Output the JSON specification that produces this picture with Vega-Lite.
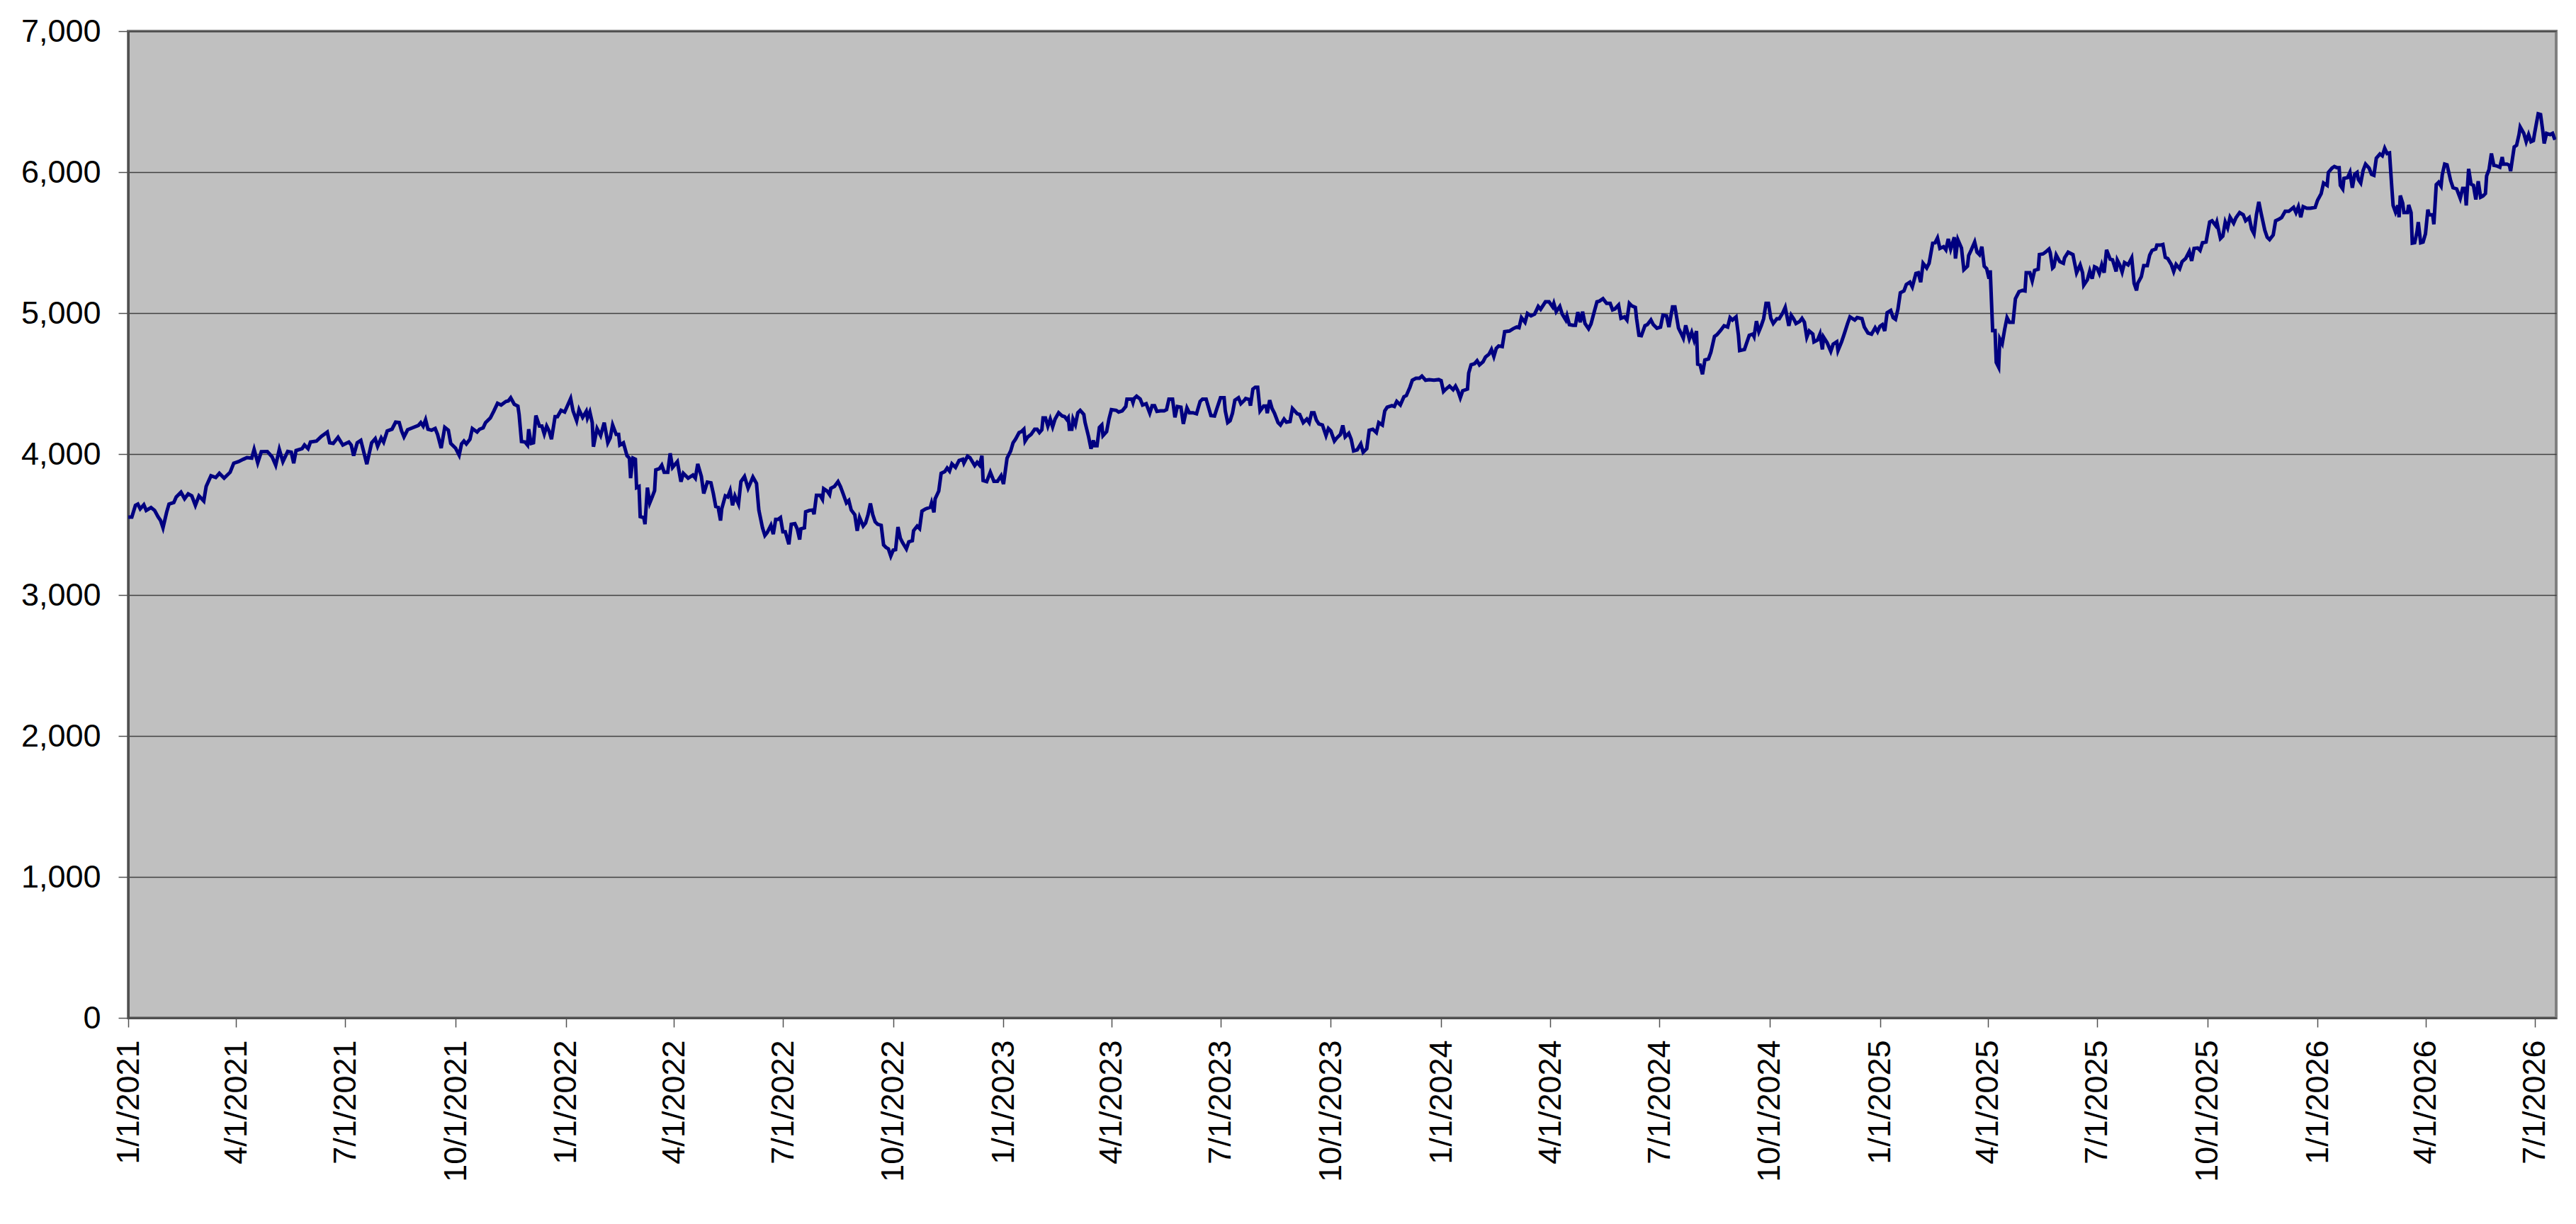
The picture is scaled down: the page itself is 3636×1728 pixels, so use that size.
{
  "$schema": "https://vega.github.io/schema/vega-lite/v6.json",
  "width": 3427,
  "height": 1393,
  "autosize": {"type": "none"},
  "padding": {"left": 181, "top": 44, "right": 28, "bottom": 291},
  "background": "white",
  "data": {
    "values": [
      {"date": "2021-01-01", "value": 3553}, {"date": "2021-01-04", "value": 3553}, {"date": "2021-01-07", "value": 3636}, {"date": "2021-01-09", "value": 3645},
      {"date": "2021-01-11", "value": 3611}, {"date": "2021-01-14", "value": 3640}, {"date": "2021-01-16", "value": 3600}, {"date": "2021-01-20", "value": 3620},
      {"date": "2021-01-23", "value": 3600}, {"date": "2021-01-26", "value": 3553}, {"date": "2021-01-28", "value": 3528}, {"date": "2021-01-30", "value": 3477},
      {"date": "2021-02-02", "value": 3586}, {"date": "2021-02-04", "value": 3645}, {"date": "2021-02-08", "value": 3656}, {"date": "2021-02-10", "value": 3695},
      {"date": "2021-02-14", "value": 3729}, {"date": "2021-02-17", "value": 3683}, {"date": "2021-02-20", "value": 3717}, {"date": "2021-02-23", "value": 3703},
      {"date": "2021-02-26", "value": 3636}, {"date": "2021-03-01", "value": 3703}, {"date": "2021-03-05", "value": 3667}, {"date": "2021-03-07", "value": 3770},
      {"date": "2021-03-11", "value": 3846}, {"date": "2021-03-15", "value": 3834}, {"date": "2021-03-18", "value": 3863}, {"date": "2021-03-22", "value": 3829},
      {"date": "2021-03-27", "value": 3871}, {"date": "2021-03-30", "value": 3935}, {"date": "2021-04-03", "value": 3946}, {"date": "2021-04-07", "value": 3963},
      {"date": "2021-04-10", "value": 3975}, {"date": "2021-04-14", "value": 3971}, {"date": "2021-04-16", "value": 4033}, {"date": "2021-04-19", "value": 3938},
      {"date": "2021-04-22", "value": 4017}, {"date": "2021-04-27", "value": 4018}, {"date": "2021-05-01", "value": 3980}, {"date": "2021-05-04", "value": 3921},
      {"date": "2021-05-07", "value": 4033}, {"date": "2021-05-10", "value": 3946}, {"date": "2021-05-14", "value": 4018}, {"date": "2021-05-17", "value": 4013},
      {"date": "2021-05-19", "value": 3935}, {"date": "2021-05-21", "value": 4025}, {"date": "2021-05-26", "value": 4038}, {"date": "2021-05-28", "value": 4064},
      {"date": "2021-05-31", "value": 4038}, {"date": "2021-06-02", "value": 4085}, {"date": "2021-06-07", "value": 4092}, {"date": "2021-06-11", "value": 4125},
      {"date": "2021-06-16", "value": 4156}, {"date": "2021-06-18", "value": 4080}, {"date": "2021-06-21", "value": 4075}, {"date": "2021-06-25", "value": 4119},
      {"date": "2021-06-29", "value": 4064}, {"date": "2021-07-04", "value": 4085}, {"date": "2021-07-06", "value": 4064}, {"date": "2021-07-08", "value": 3988},
      {"date": "2021-07-11", "value": 4080}, {"date": "2021-07-14", "value": 4097}, {"date": "2021-07-16", "value": 4030}, {"date": "2021-07-19", "value": 3928},
      {"date": "2021-07-23", "value": 4080}, {"date": "2021-07-26", "value": 4109}, {"date": "2021-07-28", "value": 4055}, {"date": "2021-07-31", "value": 4114},
      {"date": "2021-08-02", "value": 4085}, {"date": "2021-08-05", "value": 4164}, {"date": "2021-08-09", "value": 4176}, {"date": "2021-08-12", "value": 4226},
      {"date": "2021-08-15", "value": 4223}, {"date": "2021-08-17", "value": 4164}, {"date": "2021-08-19", "value": 4122}, {"date": "2021-08-22", "value": 4172},
      {"date": "2021-08-26", "value": 4186}, {"date": "2021-08-31", "value": 4203}, {"date": "2021-09-02", "value": 4223}, {"date": "2021-09-04", "value": 4198},
      {"date": "2021-09-06", "value": 4243}, {"date": "2021-09-08", "value": 4176}, {"date": "2021-09-11", "value": 4169}, {"date": "2021-09-14", "value": 4181},
      {"date": "2021-09-16", "value": 4139}, {"date": "2021-09-19", "value": 4042}, {"date": "2021-09-22", "value": 4189}, {"date": "2021-09-25", "value": 4169},
      {"date": "2021-09-27", "value": 4075}, {"date": "2021-10-01", "value": 4042}, {"date": "2021-10-04", "value": 3992}, {"date": "2021-10-06", "value": 4072},
      {"date": "2021-10-08", "value": 4092}, {"date": "2021-10-10", "value": 4072}, {"date": "2021-10-13", "value": 4105}, {"date": "2021-10-15", "value": 4181},
      {"date": "2021-10-19", "value": 4156}, {"date": "2021-10-21", "value": 4176}, {"date": "2021-10-24", "value": 4186}, {"date": "2021-10-26", "value": 4223},
      {"date": "2021-10-30", "value": 4256}, {"date": "2021-11-02", "value": 4306}, {"date": "2021-11-05", "value": 4360}, {"date": "2021-11-08", "value": 4348},
      {"date": "2021-11-12", "value": 4373}, {"date": "2021-11-14", "value": 4377}, {"date": "2021-11-16", "value": 4399}, {"date": "2021-11-19", "value": 4353},
      {"date": "2021-11-22", "value": 4340}, {"date": "2021-11-23", "value": 4281}, {"date": "2021-11-25", "value": 4089}, {"date": "2021-11-28", "value": 4085},
      {"date": "2021-11-30", "value": 4064}, {"date": "2021-12-01", "value": 4176}, {"date": "2021-12-03", "value": 4075}, {"date": "2021-12-05", "value": 4080},
      {"date": "2021-12-07", "value": 4273}, {"date": "2021-12-10", "value": 4198}, {"date": "2021-12-12", "value": 4198}, {"date": "2021-12-14", "value": 4142},
      {"date": "2021-12-16", "value": 4198}, {"date": "2021-12-18", "value": 4164}, {"date": "2021-12-20", "value": 4105}, {"date": "2021-12-23", "value": 4265},
      {"date": "2021-12-25", "value": 4265}, {"date": "2021-12-28", "value": 4310}, {"date": "2021-12-31", "value": 4298}, {"date": "2022-01-05", "value": 4394},
      {"date": "2022-01-07", "value": 4306}, {"date": "2022-01-10", "value": 4236}, {"date": "2022-01-12", "value": 4315}, {"date": "2022-01-15", "value": 4260},
      {"date": "2022-01-18", "value": 4303}, {"date": "2022-01-19", "value": 4256}, {"date": "2022-01-21", "value": 4298}, {"date": "2022-01-23", "value": 4223},
      {"date": "2022-01-24", "value": 4052}, {"date": "2022-01-27", "value": 4181}, {"date": "2022-01-30", "value": 4131}, {"date": "2022-02-02", "value": 4223},
      {"date": "2022-02-05", "value": 4080}, {"date": "2022-02-07", "value": 4114}, {"date": "2022-02-09", "value": 4206}, {"date": "2022-02-12", "value": 4139},
      {"date": "2022-02-14", "value": 4139}, {"date": "2022-02-15", "value": 4064}, {"date": "2022-02-18", "value": 4080}, {"date": "2022-02-21", "value": 3988},
      {"date": "2022-02-23", "value": 3971}, {"date": "2022-02-24", "value": 3829}, {"date": "2022-02-26", "value": 3971}, {"date": "2022-02-28", "value": 3963},
      {"date": "2022-03-01", "value": 3762}, {"date": "2022-03-03", "value": 3770}, {"date": "2022-03-04", "value": 3556}, {"date": "2022-03-07", "value": 3549},
      {"date": "2022-03-08", "value": 3502}, {"date": "2022-03-10", "value": 3762}, {"date": "2022-03-12", "value": 3653}, {"date": "2022-03-14", "value": 3695},
      {"date": "2022-03-16", "value": 3740}, {"date": "2022-03-17", "value": 3888}, {"date": "2022-03-20", "value": 3896}, {"date": "2022-03-22", "value": 3921},
      {"date": "2022-03-24", "value": 3871}, {"date": "2022-03-27", "value": 3871}, {"date": "2022-03-29", "value": 4005}, {"date": "2022-03-31", "value": 3905},
      {"date": "2022-04-04", "value": 3946}, {"date": "2022-04-07", "value": 3804}, {"date": "2022-04-09", "value": 3863}, {"date": "2022-04-13", "value": 3829},
      {"date": "2022-04-17", "value": 3851}, {"date": "2022-04-19", "value": 3829}, {"date": "2022-04-21", "value": 3930}, {"date": "2022-04-24", "value": 3841},
      {"date": "2022-04-26", "value": 3720}, {"date": "2022-04-29", "value": 3801}, {"date": "2022-05-02", "value": 3796}, {"date": "2022-05-04", "value": 3720},
      {"date": "2022-05-06", "value": 3628}, {"date": "2022-05-08", "value": 3623}, {"date": "2022-05-10", "value": 3528}, {"date": "2022-05-11", "value": 3611},
      {"date": "2022-05-14", "value": 3703}, {"date": "2022-05-16", "value": 3695}, {"date": "2022-05-18", "value": 3740}, {"date": "2022-05-20", "value": 3636},
      {"date": "2022-05-22", "value": 3703}, {"date": "2022-05-25", "value": 3645}, {"date": "2022-05-27", "value": 3804}, {"date": "2022-05-30", "value": 3841},
      {"date": "2022-06-02", "value": 3757}, {"date": "2022-06-04", "value": 3796}, {"date": "2022-06-06", "value": 3837}, {"date": "2022-06-09", "value": 3791},
      {"date": "2022-06-11", "value": 3600}, {"date": "2022-06-14", "value": 3477}, {"date": "2022-06-16", "value": 3422}, {"date": "2022-06-18", "value": 3444},
      {"date": "2022-06-21", "value": 3494}, {"date": "2022-06-23", "value": 3432}, {"date": "2022-06-25", "value": 3536}, {"date": "2022-06-27", "value": 3536},
      {"date": "2022-06-29", "value": 3549}, {"date": "2022-07-01", "value": 3449}, {"date": "2022-07-03", "value": 3449}, {"date": "2022-07-06", "value": 3360},
      {"date": "2022-07-08", "value": 3502}, {"date": "2022-07-11", "value": 3506}, {"date": "2022-07-13", "value": 3469}, {"date": "2022-07-15", "value": 3394},
      {"date": "2022-07-16", "value": 3469}, {"date": "2022-07-19", "value": 3477}, {"date": "2022-07-20", "value": 3590}, {"date": "2022-07-23", "value": 3600},
      {"date": "2022-07-26", "value": 3603}, {"date": "2022-07-27", "value": 3573}, {"date": "2022-07-29", "value": 3707}, {"date": "2022-08-01", "value": 3707},
      {"date": "2022-08-03", "value": 3678}, {"date": "2022-08-04", "value": 3754}, {"date": "2022-08-07", "value": 3737}, {"date": "2022-08-09", "value": 3712},
      {"date": "2022-08-10", "value": 3757}, {"date": "2022-08-13", "value": 3770}, {"date": "2022-08-16", "value": 3804}, {"date": "2022-08-18", "value": 3770},
      {"date": "2022-08-20", "value": 3724}, {"date": "2022-08-23", "value": 3653}, {"date": "2022-08-25", "value": 3670}, {"date": "2022-08-27", "value": 3603},
      {"date": "2022-08-30", "value": 3569}, {"date": "2022-09-01", "value": 3456}, {"date": "2022-09-03", "value": 3549}, {"date": "2022-09-06", "value": 3489},
      {"date": "2022-09-08", "value": 3511}, {"date": "2022-09-10", "value": 3569}, {"date": "2022-09-12", "value": 3650}, {"date": "2022-09-14", "value": 3569},
      {"date": "2022-09-16", "value": 3519}, {"date": "2022-09-18", "value": 3502}, {"date": "2022-09-21", "value": 3494}, {"date": "2022-09-23", "value": 3355},
      {"date": "2022-09-25", "value": 3338}, {"date": "2022-09-27", "value": 3327}, {"date": "2022-09-29", "value": 3276}, {"date": "2022-10-01", "value": 3318},
      {"date": "2022-10-03", "value": 3322}, {"date": "2022-10-05", "value": 3482}, {"date": "2022-10-07", "value": 3402}, {"date": "2022-10-09", "value": 3369},
      {"date": "2022-10-12", "value": 3327}, {"date": "2022-10-14", "value": 3377}, {"date": "2022-10-17", "value": 3385}, {"date": "2022-10-18", "value": 3456},
      {"date": "2022-10-21", "value": 3489}, {"date": "2022-10-23", "value": 3472}, {"date": "2022-10-25", "value": 3595}, {"date": "2022-10-28", "value": 3611},
      {"date": "2022-11-01", "value": 3623}, {"date": "2022-11-02", "value": 3653}, {"date": "2022-11-04", "value": 3586}, {"date": "2022-11-05", "value": 3683},
      {"date": "2022-11-08", "value": 3737}, {"date": "2022-11-10", "value": 3863}, {"date": "2022-11-13", "value": 3875}, {"date": "2022-11-15", "value": 3901},
      {"date": "2022-11-17", "value": 3879}, {"date": "2022-11-19", "value": 3930}, {"date": "2022-11-22", "value": 3905}, {"date": "2022-11-25", "value": 3955},
      {"date": "2022-11-28", "value": 3963}, {"date": "2022-11-29", "value": 3935}, {"date": "2022-12-02", "value": 3985}, {"date": "2022-12-04", "value": 3975},
      {"date": "2022-12-08", "value": 3918}, {"date": "2022-12-10", "value": 3941}, {"date": "2022-12-12", "value": 3921}, {"date": "2022-12-14", "value": 3988},
      {"date": "2022-12-15", "value": 3812}, {"date": "2022-12-18", "value": 3804}, {"date": "2022-12-21", "value": 3871}, {"date": "2022-12-24", "value": 3807},
      {"date": "2022-12-27", "value": 3807}, {"date": "2022-12-30", "value": 3846}, {"date": "2023-01-01", "value": 3787}, {"date": "2023-01-04", "value": 3971},
      {"date": "2023-01-07", "value": 4022}, {"date": "2023-01-09", "value": 4080}, {"date": "2023-01-11", "value": 4105}, {"date": "2023-01-14", "value": 4152},
      {"date": "2023-01-16", "value": 4159}, {"date": "2023-01-18", "value": 4176}, {"date": "2023-01-19", "value": 4092}, {"date": "2023-01-21", "value": 4119},
      {"date": "2023-01-24", "value": 4139}, {"date": "2023-01-27", "value": 4176}, {"date": "2023-01-29", "value": 4176}, {"date": "2023-01-31", "value": 4152},
      {"date": "2023-02-02", "value": 4172}, {"date": "2023-02-03", "value": 4256}, {"date": "2023-02-05", "value": 4256}, {"date": "2023-02-07", "value": 4198},
      {"date": "2023-02-09", "value": 4248}, {"date": "2023-02-11", "value": 4193}, {"date": "2023-02-13", "value": 4248}, {"date": "2023-02-16", "value": 4293},
      {"date": "2023-02-19", "value": 4270}, {"date": "2023-02-21", "value": 4265}, {"date": "2023-02-23", "value": 4243}, {"date": "2023-02-24", "value": 4256},
      {"date": "2023-02-25", "value": 4176}, {"date": "2023-02-27", "value": 4176}, {"date": "2023-02-28", "value": 4248}, {"date": "2023-03-02", "value": 4209},
      {"date": "2023-03-04", "value": 4293}, {"date": "2023-03-06", "value": 4310}, {"date": "2023-03-09", "value": 4281}, {"date": "2023-03-10", "value": 4226},
      {"date": "2023-03-13", "value": 4122}, {"date": "2023-03-15", "value": 4038}, {"date": "2023-03-17", "value": 4097}, {"date": "2023-03-18", "value": 4059},
      {"date": "2023-03-20", "value": 4059}, {"date": "2023-03-22", "value": 4189}, {"date": "2023-03-24", "value": 4206}, {"date": "2023-03-25", "value": 4131},
      {"date": "2023-03-28", "value": 4159}, {"date": "2023-03-30", "value": 4248}, {"date": "2023-04-01", "value": 4315}, {"date": "2023-04-05", "value": 4310},
      {"date": "2023-04-07", "value": 4298}, {"date": "2023-04-10", "value": 4306}, {"date": "2023-04-13", "value": 4337}, {"date": "2023-04-14", "value": 4390},
      {"date": "2023-04-18", "value": 4390}, {"date": "2023-04-19", "value": 4365}, {"date": "2023-04-20", "value": 4394}, {"date": "2023-04-22", "value": 4410},
      {"date": "2023-04-25", "value": 4390}, {"date": "2023-04-27", "value": 4348}, {"date": "2023-04-30", "value": 4357}, {"date": "2023-05-03", "value": 4290},
      {"date": "2023-05-05", "value": 4343}, {"date": "2023-05-07", "value": 4343}, {"date": "2023-05-09", "value": 4303}, {"date": "2023-05-12", "value": 4306},
      {"date": "2023-05-15", "value": 4306}, {"date": "2023-05-17", "value": 4315}, {"date": "2023-05-19", "value": 4390}, {"date": "2023-05-22", "value": 4390},
      {"date": "2023-05-24", "value": 4260}, {"date": "2023-05-26", "value": 4337}, {"date": "2023-05-29", "value": 4332}, {"date": "2023-05-31", "value": 4214},
      {"date": "2023-06-02", "value": 4290}, {"date": "2023-06-03", "value": 4327}, {"date": "2023-06-05", "value": 4293}, {"date": "2023-06-08", "value": 4293},
      {"date": "2023-06-11", "value": 4286}, {"date": "2023-06-14", "value": 4373}, {"date": "2023-06-16", "value": 4390}, {"date": "2023-06-19", "value": 4390},
      {"date": "2023-06-21", "value": 4332}, {"date": "2023-06-23", "value": 4273}, {"date": "2023-06-26", "value": 4270}, {"date": "2023-06-28", "value": 4323},
      {"date": "2023-07-01", "value": 4399}, {"date": "2023-07-04", "value": 4399}, {"date": "2023-07-05", "value": 4306}, {"date": "2023-07-07", "value": 4223},
      {"date": "2023-07-09", "value": 4236}, {"date": "2023-07-11", "value": 4290}, {"date": "2023-07-13", "value": 4382}, {"date": "2023-07-16", "value": 4399},
      {"date": "2023-07-18", "value": 4357}, {"date": "2023-07-21", "value": 4382}, {"date": "2023-07-22", "value": 4394}, {"date": "2023-07-25", "value": 4387},
      {"date": "2023-07-26", "value": 4343}, {"date": "2023-07-28", "value": 4461}, {"date": "2023-07-30", "value": 4474}, {"date": "2023-08-01", "value": 4474},
      {"date": "2023-08-03", "value": 4306}, {"date": "2023-08-06", "value": 4340}, {"date": "2023-08-08", "value": 4340}, {"date": "2023-08-09", "value": 4290},
      {"date": "2023-08-11", "value": 4382}, {"date": "2023-08-13", "value": 4323}, {"date": "2023-08-15", "value": 4290}, {"date": "2023-08-18", "value": 4223},
      {"date": "2023-08-20", "value": 4206}, {"date": "2023-08-23", "value": 4248}, {"date": "2023-08-25", "value": 4226}, {"date": "2023-08-28", "value": 4231},
      {"date": "2023-08-30", "value": 4323}, {"date": "2023-09-03", "value": 4286}, {"date": "2023-09-05", "value": 4281}, {"date": "2023-09-08", "value": 4223},
      {"date": "2023-09-11", "value": 4248}, {"date": "2023-09-13", "value": 4223}, {"date": "2023-09-15", "value": 4293}, {"date": "2023-09-17", "value": 4293},
      {"date": "2023-09-19", "value": 4240}, {"date": "2023-09-21", "value": 4214}, {"date": "2023-09-24", "value": 4206}, {"date": "2023-09-27", "value": 4131},
      {"date": "2023-09-29", "value": 4181}, {"date": "2023-10-01", "value": 4164}, {"date": "2023-10-04", "value": 4092}, {"date": "2023-10-06", "value": 4114},
      {"date": "2023-10-09", "value": 4139}, {"date": "2023-10-11", "value": 4203}, {"date": "2023-10-13", "value": 4122}, {"date": "2023-10-16", "value": 4147},
      {"date": "2023-10-18", "value": 4105}, {"date": "2023-10-20", "value": 4022}, {"date": "2023-10-23", "value": 4030}, {"date": "2023-10-26", "value": 4072},
      {"date": "2023-10-28", "value": 4013}, {"date": "2023-10-31", "value": 4038}, {"date": "2023-11-02", "value": 4169}, {"date": "2023-11-05", "value": 4176},
      {"date": "2023-11-08", "value": 4152}, {"date": "2023-11-10", "value": 4223}, {"date": "2023-11-13", "value": 4206}, {"date": "2023-11-15", "value": 4306},
      {"date": "2023-11-17", "value": 4332}, {"date": "2023-11-21", "value": 4343}, {"date": "2023-11-23", "value": 4337}, {"date": "2023-11-25", "value": 4373},
      {"date": "2023-11-28", "value": 4348}, {"date": "2023-12-01", "value": 4407}, {"date": "2023-12-03", "value": 4415}, {"date": "2023-12-06", "value": 4474},
      {"date": "2023-12-08", "value": 4524}, {"date": "2023-12-11", "value": 4538}, {"date": "2023-12-14", "value": 4538}, {"date": "2023-12-16", "value": 4553},
      {"date": "2023-12-19", "value": 4524}, {"date": "2023-12-22", "value": 4528}, {"date": "2023-12-26", "value": 4524}, {"date": "2023-12-30", "value": 4528},
      {"date": "2024-01-01", "value": 4521}, {"date": "2024-01-03", "value": 4444}, {"date": "2024-01-05", "value": 4461}, {"date": "2024-01-08", "value": 4482},
      {"date": "2024-01-11", "value": 4457}, {"date": "2024-01-13", "value": 4482}, {"date": "2024-01-15", "value": 4449}, {"date": "2024-01-17", "value": 4399},
      {"date": "2024-01-19", "value": 4449}, {"date": "2024-01-23", "value": 4461}, {"date": "2024-01-24", "value": 4575}, {"date": "2024-01-26", "value": 4633},
      {"date": "2024-01-29", "value": 4642}, {"date": "2024-01-31", "value": 4662}, {"date": "2024-02-02", "value": 4633}, {"date": "2024-02-05", "value": 4655},
      {"date": "2024-02-07", "value": 4688}, {"date": "2024-02-10", "value": 4709}, {"date": "2024-02-12", "value": 4742}, {"date": "2024-02-14", "value": 4692},
      {"date": "2024-02-16", "value": 4750}, {"date": "2024-02-18", "value": 4767}, {"date": "2024-02-21", "value": 4762}, {"date": "2024-02-23", "value": 4868},
      {"date": "2024-02-27", "value": 4873}, {"date": "2024-03-01", "value": 4889}, {"date": "2024-03-04", "value": 4901}, {"date": "2024-03-06", "value": 4896},
      {"date": "2024-03-08", "value": 4968}, {"date": "2024-03-11", "value": 4935}, {"date": "2024-03-13", "value": 4997}, {"date": "2024-03-16", "value": 4980},
      {"date": "2024-03-19", "value": 4993}, {"date": "2024-03-22", "value": 5047}, {"date": "2024-03-24", "value": 5027}, {"date": "2024-03-28", "value": 5080},
      {"date": "2024-03-31", "value": 5080}, {"date": "2024-04-03", "value": 5044}, {"date": "2024-04-04", "value": 5069}, {"date": "2024-04-06", "value": 5010},
      {"date": "2024-04-09", "value": 5047}, {"date": "2024-04-11", "value": 4993}, {"date": "2024-04-14", "value": 4951}, {"date": "2024-04-15", "value": 4980},
      {"date": "2024-04-17", "value": 4918}, {"date": "2024-04-20", "value": 4913}, {"date": "2024-04-22", "value": 4913}, {"date": "2024-04-24", "value": 5007},
      {"date": "2024-04-26", "value": 4935}, {"date": "2024-04-28", "value": 5010}, {"date": "2024-04-30", "value": 4926}, {"date": "2024-05-03", "value": 4889},
      {"date": "2024-05-05", "value": 4923}, {"date": "2024-05-08", "value": 5018}, {"date": "2024-05-10", "value": 5080}, {"date": "2024-05-12", "value": 5085},
      {"date": "2024-05-15", "value": 5102}, {"date": "2024-05-18", "value": 5069}, {"date": "2024-05-21", "value": 5069}, {"date": "2024-05-23", "value": 5023},
      {"date": "2024-05-25", "value": 5030}, {"date": "2024-05-28", "value": 5057}, {"date": "2024-05-30", "value": 4963}, {"date": "2024-06-02", "value": 4973},
      {"date": "2024-06-04", "value": 4951}, {"date": "2024-06-06", "value": 5069}, {"date": "2024-06-08", "value": 5052}, {"date": "2024-06-11", "value": 5040},
      {"date": "2024-06-12", "value": 4963}, {"date": "2024-06-14", "value": 4842}, {"date": "2024-06-16", "value": 4839}, {"date": "2024-06-19", "value": 4910},
      {"date": "2024-06-21", "value": 4918}, {"date": "2024-06-24", "value": 4951}, {"date": "2024-06-26", "value": 4918}, {"date": "2024-06-29", "value": 4893},
      {"date": "2024-07-02", "value": 4901}, {"date": "2024-07-04", "value": 4985}, {"date": "2024-07-07", "value": 4980}, {"date": "2024-07-09", "value": 4901},
      {"date": "2024-07-12", "value": 5044}, {"date": "2024-07-14", "value": 5044}, {"date": "2024-07-17", "value": 4893}, {"date": "2024-07-19", "value": 4859},
      {"date": "2024-07-21", "value": 4822}, {"date": "2024-07-23", "value": 4913}, {"date": "2024-07-26", "value": 4817}, {"date": "2024-07-28", "value": 4863},
      {"date": "2024-07-30", "value": 4809}, {"date": "2024-08-01", "value": 4873}, {"date": "2024-08-02", "value": 4638}, {"date": "2024-08-04", "value": 4633},
      {"date": "2024-08-06", "value": 4566}, {"date": "2024-08-08", "value": 4667}, {"date": "2024-08-11", "value": 4675}, {"date": "2024-08-13", "value": 4722},
      {"date": "2024-08-16", "value": 4834}, {"date": "2024-08-18", "value": 4846}, {"date": "2024-08-21", "value": 4876}, {"date": "2024-08-24", "value": 4910},
      {"date": "2024-08-27", "value": 4901}, {"date": "2024-08-29", "value": 4968}, {"date": "2024-08-31", "value": 4951}, {"date": "2024-09-03", "value": 4973},
      {"date": "2024-09-05", "value": 4842}, {"date": "2024-09-06", "value": 4734}, {"date": "2024-09-10", "value": 4742}, {"date": "2024-09-12", "value": 4792},
      {"date": "2024-09-14", "value": 4842}, {"date": "2024-09-17", "value": 4851}, {"date": "2024-09-18", "value": 4834}, {"date": "2024-09-20", "value": 4943},
      {"date": "2024-09-22", "value": 4868}, {"date": "2024-09-24", "value": 4910}, {"date": "2024-09-26", "value": 4960}, {"date": "2024-09-28", "value": 5069},
      {"date": "2024-09-30", "value": 5069}, {"date": "2024-10-02", "value": 4963}, {"date": "2024-10-04", "value": 4926}, {"date": "2024-10-07", "value": 4960},
      {"date": "2024-10-09", "value": 4960}, {"date": "2024-10-12", "value": 5002}, {"date": "2024-10-14", "value": 5040}, {"date": "2024-10-17", "value": 4910},
      {"date": "2024-10-19", "value": 4985}, {"date": "2024-10-21", "value": 4960}, {"date": "2024-10-23", "value": 4926}, {"date": "2024-10-26", "value": 4940},
      {"date": "2024-10-28", "value": 4963}, {"date": "2024-10-30", "value": 4935}, {"date": "2024-11-01", "value": 4829}, {"date": "2024-11-03", "value": 4873},
      {"date": "2024-11-06", "value": 4851}, {"date": "2024-11-07", "value": 4796}, {"date": "2024-11-10", "value": 4809}, {"date": "2024-11-12", "value": 4851},
      {"date": "2024-11-14", "value": 4742}, {"date": "2024-11-15", "value": 4829}, {"date": "2024-11-18", "value": 4789}, {"date": "2024-11-21", "value": 4729},
      {"date": "2024-11-23", "value": 4779}, {"date": "2024-11-26", "value": 4796}, {"date": "2024-11-27", "value": 4734}, {"date": "2024-11-30", "value": 4796},
      {"date": "2024-12-02", "value": 4846}, {"date": "2024-12-05", "value": 4926}, {"date": "2024-12-07", "value": 4973}, {"date": "2024-12-11", "value": 4951},
      {"date": "2024-12-13", "value": 4968}, {"date": "2024-12-17", "value": 4960}, {"date": "2024-12-19", "value": 4901}, {"date": "2024-12-22", "value": 4859},
      {"date": "2024-12-25", "value": 4851}, {"date": "2024-12-28", "value": 4896}, {"date": "2024-12-30", "value": 4868}, {"date": "2025-01-01", "value": 4906},
      {"date": "2025-01-03", "value": 4918}, {"date": "2025-01-05", "value": 4873}, {"date": "2025-01-07", "value": 5002}, {"date": "2025-01-10", "value": 5018},
      {"date": "2025-01-12", "value": 4968}, {"date": "2025-01-14", "value": 4956}, {"date": "2025-01-16", "value": 5027}, {"date": "2025-01-18", "value": 5144},
      {"date": "2025-01-21", "value": 5157}, {"date": "2025-01-23", "value": 5203}, {"date": "2025-01-26", "value": 5219}, {"date": "2025-01-28", "value": 5186},
      {"date": "2025-01-31", "value": 5281}, {"date": "2025-02-02", "value": 5286}, {"date": "2025-02-04", "value": 5219}, {"date": "2025-02-06", "value": 5353},
      {"date": "2025-02-09", "value": 5320}, {"date": "2025-02-11", "value": 5353}, {"date": "2025-02-14", "value": 5496}, {"date": "2025-02-16", "value": 5499},
      {"date": "2025-02-18", "value": 5533}, {"date": "2025-02-20", "value": 5459}, {"date": "2025-02-23", "value": 5471}, {"date": "2025-02-25", "value": 5449},
      {"date": "2025-02-27", "value": 5526}, {"date": "2025-03-01", "value": 5454}, {"date": "2025-03-04", "value": 5538}, {"date": "2025-03-05", "value": 5387},
      {"date": "2025-03-07", "value": 5521}, {"date": "2025-03-10", "value": 5462}, {"date": "2025-03-12", "value": 5308}, {"date": "2025-03-15", "value": 5332},
      {"date": "2025-03-16", "value": 5409}, {"date": "2025-03-18", "value": 5445}, {"date": "2025-03-21", "value": 5504}, {"date": "2025-03-23", "value": 5432},
      {"date": "2025-03-25", "value": 5415}, {"date": "2025-03-27", "value": 5471}, {"date": "2025-03-29", "value": 5332}, {"date": "2025-03-31", "value": 5315},
      {"date": "2025-04-02", "value": 5244}, {"date": "2025-04-03", "value": 5303}, {"date": "2025-04-05", "value": 4876}, {"date": "2025-04-07", "value": 4876},
      {"date": "2025-04-08", "value": 4650}, {"date": "2025-04-10", "value": 4616}, {"date": "2025-04-11", "value": 4817}, {"date": "2025-04-13", "value": 4784},
      {"date": "2025-04-15", "value": 4884}, {"date": "2025-04-17", "value": 4968}, {"date": "2025-04-19", "value": 4935}, {"date": "2025-04-22", "value": 4935},
      {"date": "2025-04-24", "value": 5102}, {"date": "2025-04-27", "value": 5152}, {"date": "2025-04-30", "value": 5161}, {"date": "2025-05-02", "value": 5157},
      {"date": "2025-05-03", "value": 5286}, {"date": "2025-05-06", "value": 5286}, {"date": "2025-05-08", "value": 5228}, {"date": "2025-05-10", "value": 5303},
      {"date": "2025-05-13", "value": 5311}, {"date": "2025-05-14", "value": 5415}, {"date": "2025-05-17", "value": 5420}, {"date": "2025-05-19", "value": 5432},
      {"date": "2025-05-22", "value": 5454}, {"date": "2025-05-23", "value": 5429}, {"date": "2025-05-25", "value": 5320}, {"date": "2025-05-26", "value": 5328},
      {"date": "2025-05-28", "value": 5412}, {"date": "2025-05-31", "value": 5365}, {"date": "2025-06-03", "value": 5353}, {"date": "2025-06-04", "value": 5392},
      {"date": "2025-06-07", "value": 5432}, {"date": "2025-06-11", "value": 5415}, {"date": "2025-06-12", "value": 5370}, {"date": "2025-06-14", "value": 5286},
      {"date": "2025-06-17", "value": 5342}, {"date": "2025-06-19", "value": 5286}, {"date": "2025-06-20", "value": 5198}, {"date": "2025-06-23", "value": 5236},
      {"date": "2025-06-25", "value": 5298}, {"date": "2025-06-27", "value": 5244}, {"date": "2025-06-29", "value": 5328}, {"date": "2025-07-01", "value": 5320},
      {"date": "2025-07-03", "value": 5281}, {"date": "2025-07-05", "value": 5342}, {"date": "2025-07-07", "value": 5286}, {"date": "2025-07-09", "value": 5449},
      {"date": "2025-07-12", "value": 5382}, {"date": "2025-07-14", "value": 5378}, {"date": "2025-07-17", "value": 5295}, {"date": "2025-07-18", "value": 5375},
      {"date": "2025-07-20", "value": 5342}, {"date": "2025-07-22", "value": 5291}, {"date": "2025-07-24", "value": 5358}, {"date": "2025-07-27", "value": 5342},
      {"date": "2025-07-30", "value": 5392}, {"date": "2025-08-01", "value": 5211}, {"date": "2025-08-03", "value": 5161}, {"date": "2025-08-04", "value": 5211},
      {"date": "2025-08-07", "value": 5258}, {"date": "2025-08-09", "value": 5337}, {"date": "2025-08-12", "value": 5337}, {"date": "2025-08-14", "value": 5412},
      {"date": "2025-08-16", "value": 5445}, {"date": "2025-08-19", "value": 5454}, {"date": "2025-08-20", "value": 5482}, {"date": "2025-08-23", "value": 5482},
      {"date": "2025-08-25", "value": 5487}, {"date": "2025-08-27", "value": 5395}, {"date": "2025-08-29", "value": 5387}, {"date": "2025-09-01", "value": 5345},
      {"date": "2025-09-03", "value": 5295}, {"date": "2025-09-05", "value": 5345}, {"date": "2025-09-08", "value": 5315}, {"date": "2025-09-10", "value": 5365},
      {"date": "2025-09-13", "value": 5387}, {"date": "2025-09-16", "value": 5437}, {"date": "2025-09-18", "value": 5370}, {"date": "2025-09-20", "value": 5459},
      {"date": "2025-09-23", "value": 5462}, {"date": "2025-09-25", "value": 5445}, {"date": "2025-09-27", "value": 5499}, {"date": "2025-09-30", "value": 5504},
      {"date": "2025-10-03", "value": 5646}, {"date": "2025-10-05", "value": 5655}, {"date": "2025-10-08", "value": 5621}, {"date": "2025-10-09", "value": 5646},
      {"date": "2025-10-12", "value": 5529}, {"date": "2025-10-14", "value": 5546}, {"date": "2025-10-16", "value": 5646}, {"date": "2025-10-18", "value": 5605},
      {"date": "2025-10-20", "value": 5680}, {"date": "2025-10-23", "value": 5638}, {"date": "2025-10-25", "value": 5677}, {"date": "2025-10-28", "value": 5713},
      {"date": "2025-10-31", "value": 5697}, {"date": "2025-11-02", "value": 5655}, {"date": "2025-11-05", "value": 5677}, {"date": "2025-11-07", "value": 5596},
      {"date": "2025-11-09", "value": 5563}, {"date": "2025-11-11", "value": 5697}, {"date": "2025-11-13", "value": 5789}, {"date": "2025-11-15", "value": 5705},
      {"date": "2025-11-18", "value": 5588}, {"date": "2025-11-20", "value": 5538}, {"date": "2025-11-22", "value": 5521}, {"date": "2025-11-25", "value": 5554},
      {"date": "2025-11-27", "value": 5655}, {"date": "2025-11-30", "value": 5667}, {"date": "2025-12-02", "value": 5677}, {"date": "2025-12-05", "value": 5722},
      {"date": "2025-12-08", "value": 5722}, {"date": "2025-12-12", "value": 5750}, {"date": "2025-12-14", "value": 5713}, {"date": "2025-12-16", "value": 5755},
      {"date": "2025-12-18", "value": 5680}, {"date": "2025-12-20", "value": 5755}, {"date": "2025-12-23", "value": 5744}, {"date": "2025-12-26", "value": 5744},
      {"date": "2025-12-30", "value": 5750}, {"date": "2026-01-01", "value": 5800}, {"date": "2026-01-04", "value": 5847}, {"date": "2026-01-06", "value": 5923},
      {"date": "2026-01-09", "value": 5906}, {"date": "2026-01-10", "value": 5998}, {"date": "2026-01-13", "value": 6028}, {"date": "2026-01-15", "value": 6040},
      {"date": "2026-01-17", "value": 6032}, {"date": "2026-01-19", "value": 6032}, {"date": "2026-01-20", "value": 5906}, {"date": "2026-01-22", "value": 5881},
      {"date": "2026-01-23", "value": 5956}, {"date": "2026-01-26", "value": 5961}, {"date": "2026-01-28", "value": 5998}, {"date": "2026-01-30", "value": 5889},
      {"date": "2026-02-01", "value": 5985}, {"date": "2026-02-03", "value": 5998}, {"date": "2026-02-04", "value": 5948}, {"date": "2026-02-06", "value": 5923},
      {"date": "2026-02-08", "value": 6012}, {"date": "2026-02-10", "value": 6057}, {"date": "2026-02-13", "value": 6028}, {"date": "2026-02-15", "value": 5985},
      {"date": "2026-02-17", "value": 5978}, {"date": "2026-02-19", "value": 6099}, {"date": "2026-02-22", "value": 6129}, {"date": "2026-02-24", "value": 6116},
      {"date": "2026-02-26", "value": 6169}, {"date": "2026-02-28", "value": 6132}, {"date": "2026-03-02", "value": 6136}, {"date": "2026-03-04", "value": 5881},
      {"date": "2026-03-05", "value": 5764}, {"date": "2026-03-07", "value": 5717}, {"date": "2026-03-09", "value": 5764}, {"date": "2026-03-10", "value": 5680},
      {"date": "2026-03-11", "value": 5834}, {"date": "2026-03-13", "value": 5780}, {"date": "2026-03-14", "value": 5713}, {"date": "2026-03-17", "value": 5713},
      {"date": "2026-03-18", "value": 5767}, {"date": "2026-03-20", "value": 5713}, {"date": "2026-03-21", "value": 5496}, {"date": "2026-03-23", "value": 5499},
      {"date": "2026-03-25", "value": 5580}, {"date": "2026-03-26", "value": 5646}, {"date": "2026-03-28", "value": 5499}, {"date": "2026-03-30", "value": 5504},
      {"date": "2026-04-01", "value": 5563}, {"date": "2026-04-03", "value": 5734}, {"date": "2026-04-04", "value": 5697}, {"date": "2026-04-07", "value": 5697},
      {"date": "2026-04-08", "value": 5630}, {"date": "2026-04-10", "value": 5911}, {"date": "2026-04-12", "value": 5928}, {"date": "2026-04-14", "value": 5901},
      {"date": "2026-04-15", "value": 5982}, {"date": "2026-04-17", "value": 6057}, {"date": "2026-04-19", "value": 6052}, {"date": "2026-04-22", "value": 5940},
      {"date": "2026-04-24", "value": 5889}, {"date": "2026-04-27", "value": 5881}, {"date": "2026-04-30", "value": 5814}, {"date": "2026-05-02", "value": 5884},
      {"date": "2026-05-04", "value": 5884}, {"date": "2026-05-05", "value": 5764}, {"date": "2026-05-07", "value": 6023}, {"date": "2026-05-09", "value": 5915},
      {"date": "2026-05-11", "value": 5906}, {"date": "2026-05-13", "value": 5806}, {"date": "2026-05-15", "value": 5935}, {"date": "2026-05-17", "value": 5822},
      {"date": "2026-05-19", "value": 5831}, {"date": "2026-05-21", "value": 5848}, {"date": "2026-05-22", "value": 5973}, {"date": "2026-05-24", "value": 6018},
      {"date": "2026-05-26", "value": 6132}, {"date": "2026-05-28", "value": 6048}, {"date": "2026-05-30", "value": 6045}, {"date": "2026-06-02", "value": 6035},
      {"date": "2026-06-04", "value": 6107}, {"date": "2026-06-05", "value": 6057}, {"date": "2026-06-08", "value": 6057}, {"date": "2026-06-10", "value": 6048},
      {"date": "2026-06-11", "value": 6007}, {"date": "2026-06-14", "value": 6179}, {"date": "2026-06-16", "value": 6191}, {"date": "2026-06-18", "value": 6266},
      {"date": "2026-06-19", "value": 6320}, {"date": "2026-06-22", "value": 6275}, {"date": "2026-06-24", "value": 6216}, {"date": "2026-06-26", "value": 6266},
      {"date": "2026-06-28", "value": 6216}, {"date": "2026-06-30", "value": 6224}, {"date": "2026-07-01", "value": 6275}, {"date": "2026-07-04", "value": 6414},
      {"date": "2026-07-06", "value": 6409}, {"date": "2026-07-08", "value": 6283}, {"date": "2026-07-09", "value": 6203}, {"date": "2026-07-11", "value": 6275},
      {"date": "2026-07-14", "value": 6266}, {"date": "2026-07-16", "value": 6275}, {"date": "2026-07-18", "value": 6229}
    ]
  },
  "mark": {"type": "line", "color": "#000080", "strokeWidth": 5, "clip": true},
  "encoding": {
    "x": {
      "field": "date",
      "type": "temporal",
      "title": null,
      "scale": {
        "type": "utc",
        "nice": false,
        "domain": [
          {"year": 2021, "month": 1, "date": 1, "utc": true},
          {"year": 2026, "month": 7, "date": 19, "utc": true}
        ]
      },
      "axis": {
        "values": [
          {"year": 2021, "month": 1, "date": 1, "utc": true}, {"year": 2021, "month": 4, "date": 1, "utc": true},
          {"year": 2021, "month": 7, "date": 1, "utc": true}, {"year": 2021, "month": 10, "date": 1, "utc": true},
          {"year": 2022, "month": 1, "date": 1, "utc": true}, {"year": 2022, "month": 4, "date": 1, "utc": true},
          {"year": 2022, "month": 7, "date": 1, "utc": true}, {"year": 2022, "month": 10, "date": 1, "utc": true},
          {"year": 2023, "month": 1, "date": 1, "utc": true}, {"year": 2023, "month": 4, "date": 1, "utc": true},
          {"year": 2023, "month": 7, "date": 1, "utc": true}, {"year": 2023, "month": 10, "date": 1, "utc": true},
          {"year": 2024, "month": 1, "date": 1, "utc": true}, {"year": 2024, "month": 4, "date": 1, "utc": true},
          {"year": 2024, "month": 7, "date": 1, "utc": true}, {"year": 2024, "month": 10, "date": 1, "utc": true},
          {"year": 2025, "month": 1, "date": 1, "utc": true}, {"year": 2025, "month": 4, "date": 1, "utc": true},
          {"year": 2025, "month": 7, "date": 1, "utc": true}, {"year": 2025, "month": 10, "date": 1, "utc": true},
          {"year": 2026, "month": 1, "date": 1, "utc": true}, {"year": 2026, "month": 4, "date": 1, "utc": true},
          {"year": 2026, "month": 7, "date": 1, "utc": true}
        ],
        "format": "%-m/%-d/%Y",
        "labelAngle": 270,
        "labelPadding": 18,
        "tickSize": 13,
        "grid": false
      }
    },
    "y": {
      "field": "value",
      "type": "quantitative",
      "title": null,
      "scale": {"domain": [0, 7000], "nice": false},
      "axis": {
        "values": [0, 1000, 2000, 3000, 4000, 5000, 6000, 7000],
        "format": ",d",
        "tickSize": 14,
        "labelPadding": 25,
        "grid": true
      }
    }
  },
  "config": {
    "view": {"fill": "#C0C0C0", "stroke": "#808080", "strokeWidth": 4},
    "axis": {
      "labelFont": "Liberation Sans",
      "labelFontSize": 45,
      "labelColor": "#000000",
      "labelLimit": 0,
      "labelOverlap": false,
      "labelFlush": false,
      "domainColor": "#505050",
      "domainWidth": 3,
      "tickColor": "#505050",
      "tickWidth": 1.5,
      "gridColor": "#404040",
      "gridWidth": 1.5,
      "gridOpacity": 1
    }
  }
}
